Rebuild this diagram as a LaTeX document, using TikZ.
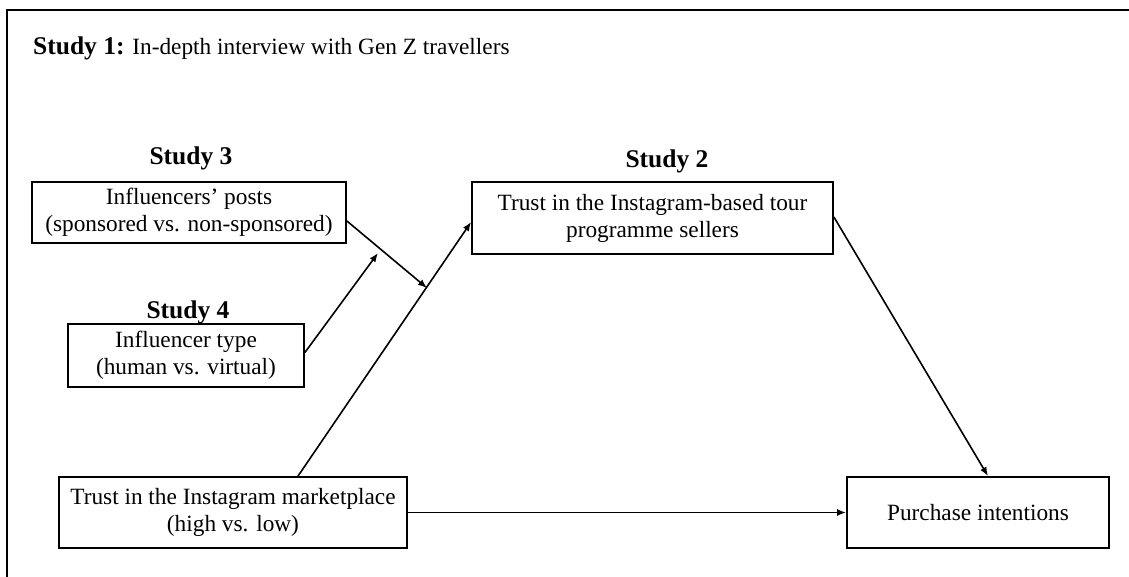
\documentclass[tikz,border=0pt]{standalone}
\usepackage{fontspec}
\setmainfont{Liberation Serif}
\usetikzlibrary{arrows.meta,calc}
\newcommand{\nfs}{\fontsize{23.3}{27}\selectfont}
\newcommand{\bfs}{\fontsize{25.5}{29}\selectfont\bfseries}
\tikzset{
  box/.style={draw=black, line width=1.8pt, fill=white, align=center, inner sep=0pt, font=\nfs},
  lbl/.style={anchor=base, inner sep=0pt, font=\bfs},
  conn/.style={line width=1.6pt, -{Latex[length=9pt,width=7pt]}},
  frame/.style={line width=1.8pt, line cap=rect}
}
\begin{document}
\begin{tikzpicture}[x=1pt,y=-1pt]
\useasboundingbox (0,0) rectangle (1129,577);
% outer frame (open on the right and bottom)
\coordinate (fbl) at (7,577);
\coordinate (ftl) at (7,10);
\coordinate (ftr) at (1129,10);
\draw[frame] (fbl) -- (ftl) -- (ftr);
% title
\node[anchor=base west, inner sep=0pt, font=\nfs] (title) at (33,55) {{\bfs Study 1:} In-depth interview with Gen Z travellers};
% boxes
\node[box, minimum width=314pt, minimum height=61pt] (posts) at (189,212.5) {Influencers' posts\\(sponsored vs. non-sponsored)};
\node[box, minimum width=236pt, minimum height=63pt] (type) at (186,355.5) {Influencer type\\(human vs. virtual)};
\node[box, minimum width=348pt, minimum height=71pt] (market) at (233,512.5) {Trust in the Instagram marketplace\\(high vs. low)};
\node[box, minimum width=361pt, minimum height=72pt] (sellers) at (652.5,218) {Trust in the Instagram-based tour\\programme sellers};
\node[box, minimum width=262pt, minimum height=71pt] (purchase) at (978,512.5) {Purchase intentions};
% study labels
\node[lbl] (s3) at (191,165) {Study 3};
\node[lbl] (s4) at (188,318) {Study 4};
\node[lbl] (s2) at (667,168) {Study 2};
% connector junction points
\coordinate (J) at (427,288);
\coordinate (M) at (378,253);
% connectors
\draw[conn] ([yshift=-8.5pt]posts.east) -- (J);
\draw[conn] ([yshift=3pt]type.east) -- (M);
\draw[conn] ([xshift=65pt]market.north) -- ([yshift=-4pt]sellers.west);
\draw[conn] ([yshift=1pt]sellers.east) -- ([xshift=10pt]purchase.north);
\draw[conn] (market.east) -- (purchase.west);
\end{tikzpicture}
\end{document}
